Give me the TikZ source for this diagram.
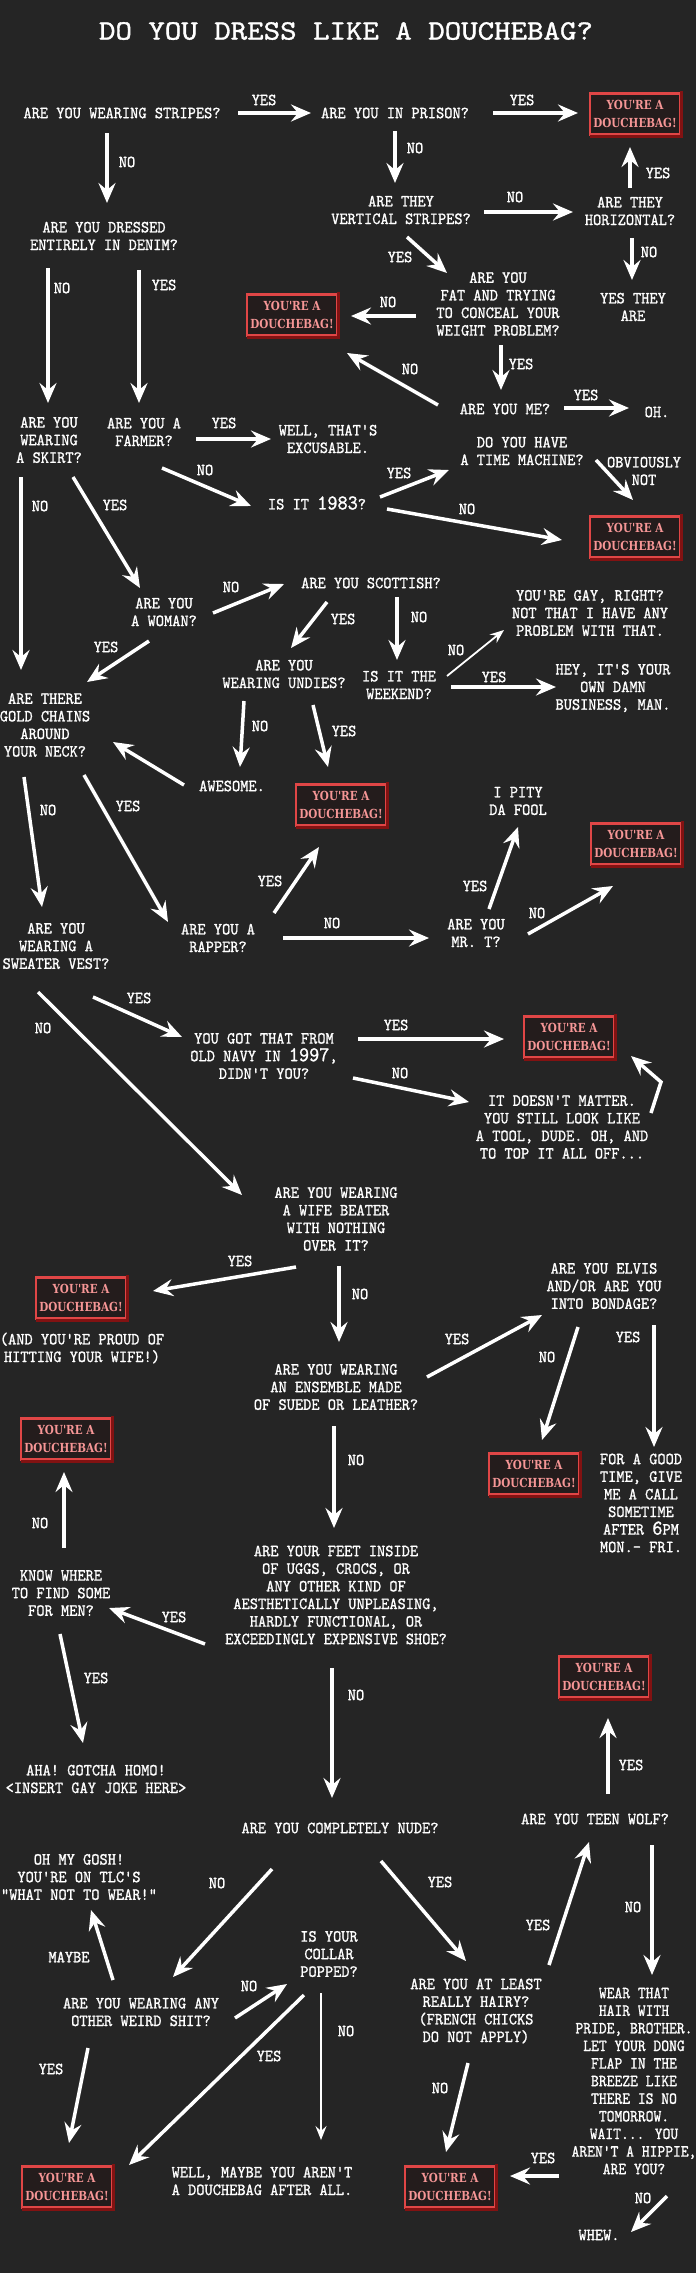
\documentclass[tikz,border=0pt]{standalone}
\usepackage{fontspec}
\usetikzlibrary{arrows.meta}
\newfontfamily\twfont[FakeBold=1.2]{lmmono10-regular.otf}
\newfontfamily\bagfont{DejaVu Serif}
\definecolor{bg}{RGB}{37,37,37}
\definecolor{bagred}{RGB}{224,70,70}
\definecolor{bagdark}{RGB}{130,18,18}
\definecolor{bagfill}{RGB}{36,28,28}
\definecolor{bagtext}{RGB}{246,150,150}
\tikzset{
  txt/.style={text=white, font=\twfont\fontsize{17}{17.6}\selectfont, align=center, xscale=0.92, inner sep=0pt},
  lbl/.style={txt},
  ttl/.style={text=white, font=\twfont\fontsize{28}{30}\selectfont, xscale=1.12, inner sep=0pt},
  arr/.style={draw=white, line width=3.5pt, -{Stealth[length=20pt,width=17pt,inset=7pt]}},
  slim/.style={line width=1.8pt, -{Stealth[length=14pt,width=11pt,inset=5pt]}},
  bag/.style={rectangle, draw=bagred, line width=2.5pt, fill=bagfill, minimum width=108pt, minimum height=41pt, xscale=0.83, inner sep=0pt, text=bagtext, font=\bagfont\bfseries\fontsize{12.5}{17.5}\selectfont, align=center},
  bagedge/.style={draw=bagdark, line width=3pt}
}
\newcommand\fconn[5][]{\draw[arr,#1] ([shift={(#3)}]#2.center) -- ([shift={(#5)}]#4.center);}
\newcommand\flab[3]{\node[lbl] (#1) at (#2) {#3};}
\newcommand\bagtxt{YOU'RE A\\DOUCHEBAG!}
\newcommand\bagnode[2]{\node[bag] (#1) at (#2) {\bagtxt};
  \draw[bagedge] ([shift={(1,1)}]#1.south west) -- ([shift={(1,1)}]#1.south east) -- ([shift={(1,-1)}]#1.north east);}
\begin{document}
\begin{tikzpicture}[x=1pt,y=-1pt]
\fill[bg] (0,0) rectangle (696,2273);
\useasboundingbox (0,0) rectangle (696,2273);

\node[ttl] (title) at (346,31) {DO YOU DRESS LIKE A DOUCHEBAG?};

\node[txt] (stripes) at (122,113) {ARE YOU WEARING STRIPES?};
\node[txt] (prison) at (395,113) {ARE YOU IN PRISON?};
\bagnode{bag1}{635,114}
\node[txt] (vert) at (401,210) {ARE THEY\\VERTICAL STRIPES?};
\node[txt] (horiz) at (630,211) {ARE THEY\\HORIZONTAL?};
\node[txt] (yesare) at (633,307) {YES THEY\\ARE};
\node[txt] (denim) at (104,236) {ARE YOU DRESSED\\ENTIRELY IN DENIM?};
\node[txt] (fat) at (498,304) {ARE YOU\\FAT AND TRYING\\TO CONCEAL YOUR\\WEIGHT PROBLEM?};
\bagnode{bag2}{292,315}
\node[txt] (skirt) at (49,440) {ARE YOU\\WEARING\\A SKIRT?};
\node[txt] (farmer) at (144,432) {ARE YOU A\\FARMER?};
\node[txt] (excuse) at (328,439) {WELL, THAT'S\\EXCUSABLE.};
\node[txt] (me) at (505,409) {ARE YOU ME?};
\node[txt] (oh) at (657,412) {OH.};
\node[txt] (time) at (522,451) {DO YOU HAVE\\A TIME MACHINE?};
\node[txt] (y1983) at (317,503) {IS IT {\fontsize{21}{17.6}\selectfont 1983}?};
\bagnode{bag3}{635,537}
\node[txt] (scot) at (371,583) {ARE YOU SCOTTISH?};
\node[txt] (woman) at (164,612) {ARE YOU\\A WOMAN?};
\node[txt] (undies) at (284,674) {ARE YOU\\WEARING UNDIES?};
\node[txt] (weekend) at (399,685) {IS IT THE\\WEEKEND?};
\node[txt] (gay) at (590,613) {YOU'RE GAY, RIGHT?\\NOT THAT I HAVE ANY\\PROBLEM WITH THAT.};
\node[txt] (business) at (613,688) {HEY, IT'S YOUR\\OWN DAMN\\BUSINESS, MAN.};
\node[txt] (gold) at (45,725) {ARE THERE\\GOLD CHAINS\\AROUND\\YOUR NECK?};
\node[txt] (awesome) at (232,786) {AWESOME.};
\bagnode{bag4}{341,805}
\node[txt] (pity) at (518,801) {I PITY\\DA FOOL};
\bagnode{bag5}{636,844}
\node[txt] (rapper) at (218,938) {ARE YOU A\\RAPPER?};
\node[txt] (mrt) at (476,933) {ARE YOU\\MR. T?};
\node[txt] (sweater) at (56,946) {ARE YOU\\WEARING A\\SWEATER VEST?};
\node[txt] (navy) at (264,1056) {YOU GOT THAT FROM\\OLD NAVY IN {\fontsize{21}{17.6}\selectfont 1997},\\DIDN'T YOU?};
\bagnode{bag6}{569,1037}
\node[txt] (matter) at (562,1127) {IT DOESN'T MATTER.\\YOU STILL LOOK LIKE\\A TOOL, DUDE. OH, AND\\TO TOP IT ALL OFF...};
\node[txt] (wife) at (336,1219) {ARE YOU WEARING\\A WIFE BEATER\\WITH NOTHING\\OVER IT?};
\bagnode{bag7}{81,1298}
\node[txt] (proud) at (82,1348) {(AND YOU'RE PROUD OF\\HITTING YOUR WIFE!)};
\node[txt] (elvis) at (604,1286) {ARE YOU ELVIS\\AND/OR ARE YOU\\INTO BONDAGE?};
\node[txt] (ensemble) at (336,1387) {ARE YOU WEARING\\AN ENSEMBLE MADE\\OF SUEDE OR LEATHER?};
\bagnode{bag8}{534,1474}
\node[txt] (goodtime) at (641,1503) {FOR A GOOD\\TIME, GIVE\\ME A CALL\\SOMETIME\\AFTER {\fontsize{21}{17.6}\selectfont 6}PM\\MON.— FRI.};
\bagnode{bag9}{66,1439}
\node[txt] (feet) at (336,1595) {ARE YOUR FEET INSIDE\\OF UGGS, CROCS, OR\\ANY OTHER KIND OF\\AESTHETICALLY UNPLEASING,\\HARDLY FUNCTIONAL, OR\\EXCEEDINGLY EXPENSIVE SHOE?};
\node[txt] (know) at (61,1593) {KNOW WHERE\\TO FIND SOME\\FOR MEN?};
\bagnode{bag10}{604,1677}
\node[txt] (aha) at (96,1779) {AHA! GOTCHA HOMO!\\<INSERT GAY JOKE HERE>};
\node[txt] (nude) at (340,1828) {ARE YOU COMPLETELY NUDE?};
\node[txt] (teen) at (595,1819) {ARE YOU TEEN WOLF?};
\node[txt] (omg) at (79,1877) {OH MY GOSH!\\YOU'RE ON TLC'S\\“WHAT NOT TO WEAR!”};
\node[txt] (collar) at (329,1954) {IS YOUR\\COLLAR\\POPPED?};
\node[txt] (weird) at (141,2012) {ARE YOU WEARING ANY\\OTHER WEIRD SHIT?};
\node[txt] (hairy) at (476,2011) {ARE YOU AT LEAST\\REALLY HAIRY?\\(FRENCH CHICKS\\DO NOT APPLY)};
\node[txt, xscale=0.95] (hippie) at (634,2081) {WEAR THAT\\HAIR WITH\\PRIDE, BROTHER.\\LET YOUR DONG\\FLAP IN THE\\BREEZE LIKE\\THERE IS NO\\TOMORROW.\\WAIT... YOU\\AREN'T A HIPPIE,\\ARE YOU?};
\node[txt] (whew) at (599,2235) {WHEW.};
\bagnode{bag11}{67,2187}
\node[txt] (maybe) at (262,2181) {WELL, MAYBE YOU AREN'T\\A DOUCHEBAG AFTER ALL.};
\bagnode{bag12}{450,2187}

% connectors
\fconn{stripes}{116,0}{prison}{-84,0}
\fconn{prison}{98,0}{bag1}{-57,-1}
\fconn{stripes}{-15,20}{denim}{3,-33}
\fconn{prison}{0,18}{vert}{-6,-27}
\fconn{horiz}{0,-23}{bag1}{-5,33}
\fconn{vert}{83,2}{horiz}{-57,1}
\fconn{horiz}{2,27}{yesare}{-1,-27}
\fconn{denim}{-56,32}{skirt}{-1,-37}
\fconn{denim}{35,34}{farmer}{-5,-29}
\fconn{vert}{6,27}{fat}{-51,-31}
\fconn{fat}{-82,12}{bag2}{59,1}
\fconn{fat}{3,41}{me}{-4,-19}
\fconn{me}{-67,-4}{bag2}{55,38}
\fconn{me}{59,-1}{oh}{-28,-4}
\fconn{farmer}{52,7}{excuse}{-57,0}
\fconn{time}{74,9}{bag3}{-2,-37}
\fconn{farmer}{18,36}{y1983}{-66,3}
\fconn{y1983}{63,-6}{time}{-73,19}
\fconn{y1983}{70,6}{bag3}{-73,3}
\fconn{skirt}{-28,37}{gold}{-24,-55}
\fconn{skirt}{24,37}{woman}{-24,-24}
\fconn{woman}{49,1}{scot}{-87,1}
\fconn{scot}{-44,19}{undies}{7,-26}
\fconn{scot}{26,14}{weekend}{-2,-25}
\fconn{woman}{-15,29}{gold}{42,-43}
\fconn[slim]{weekend}{48,-9}{gay}{-86,17}
\fconn{weekend}{52,2}{business}{-57,-1}
\fconn{undies}{-40,27}{awesome}{8,-19}
\fconn{undies}{29,31}{bag4}{-13,-38}
\fconn{awesome}{-48,-1}{gold}{68,17}
\fconn{gold}{-21,52}{sweater}{-14,-39}
\fconn{gold}{39,50}{rapper}{-50,-16}
\fconn{rapper}{56,-25}{bag4}{-22,42}
\fconn{rapper}{65,0}{mrt}{-47,5}
\fconn{mrt}{13,-24}{pity}{0,26}
\fconn{mrt}{52,1}{bag5}{-23,42}
\fconn{sweater}{-18,46}{wife}{-94,-24}
\fconn{sweater}{37,51}{navy}{-82,-19}
\fconn{navy}{94,-17}{bag6}{-65,2}
\fconn{navy}{89,22}{matter}{-93,-25}
\draw[arr] ([shift={(89,-14)}]matter.center) -- ([shift={(99,-45)}]matter.center) -- ([shift={(62,19)}]bag6.center);
\fconn{wife}{-40,48}{bag7}{72,-7}
\fconn{wife}{3,47}{ensemble}{3,-45}
\fconn{ensemble}{91,-10}{elvis}{-62,29}
\fconn{elvis}{-26,41}{bag8}{8,-34}
\fconn{elvis}{50,39}{goodtime}{13,-56}
\fconn{ensemble}{-2,39}{feet}{-2,-67}
\fconn{know}{3,-45}{bag9}{-2,33}
\fconn{feet}{-131,49}{know}{48,15}
\fconn{know}{-1,41}{aha}{-13,-36}
\fconn{feet}{-4,73}{nude}{-8,-30}
\fconn{teen}{13,-25}{bag10}{4,41}
\fconn{nude}{-68,41}{weird}{32,-35}
\fconn{nude}{41,33}{hairy}{-10,-50}
\fconn{hairy}{73,-46}{teen}{-6,23}
\fconn{teen}{57,26}{hippie}{18,-106}
\fconn{weird}{-28,-32}{omg}{12,33}
\fconn{weird}{94,6}{collar}{-42,30}
\fconn{collar}{-25,41}{bag11}{62,-22}
\fconn[slim]{collar}{-8,39}{maybe}{59,-41}
\fconn{hairy}{-8,52}{bag12}{-4,-35}
\fconn{weird}{-53,36}{bag11}{2,-44}
\fconn{hippie}{-75,95}{bag12}{60,-11}
\fconn{hippie}{33,115}{whew}{32,-3}

% labels
\flab{l1}{264,100}{YES}
\flab{l2}{522,100}{YES}
\flab{l3}{127,162}{NO}
\flab{l4}{415,148}{NO}
\flab{l5}{658,173}{YES}
\flab{l6}{515,197}{NO}
\flab{l7}{649,252}{NO}
\flab{l8}{62,288}{NO}
\flab{l9}{164,285}{YES}
\flab{l10}{400,257}{YES}
\flab{l11}{388,302}{NO}
\flab{l12}{521,364}{YES}
\flab{l13}{410,369}{NO}
\flab{l14}{586,395}{YES}
\flab{l15}{224,423}{YES}
\flab{l16}{644,471}{OBVIOUSLY\\NOT}
\flab{l17}{205,470}{NO}
\flab{l18}{399,473}{YES}
\flab{l19}{467,509}{NO}
\flab{l20}{40,506}{NO}
\flab{l21}{115,505}{YES}
\flab{l22}{231,587}{NO}
\flab{l23}{343,619}{YES}
\flab{l24}{419,617}{NO}
\flab{l25}{106,647}{YES}
\flab{l26}{456,650}{NO}
\flab{l27}{494,677}{YES}
\flab{l28}{260,726}{NO}
\flab{l29}{344,731}{YES}
\flab{l31}{48,810}{NO}
\flab{l32}{128,806}{YES}
\flab{l33}{270,881}{YES}
\flab{l34}{332,923}{NO}
\flab{l35}{475,886}{YES}
\flab{l36}{537,913}{NO}
\flab{l37}{43,1028}{NO}
\flab{l38}{139,998}{YES}
\flab{l39}{396,1025}{YES}
\flab{l40}{400,1073}{NO}
\flab{l42}{240,1261}{YES}
\flab{l43}{360,1294}{NO}
\flab{l44}{457,1339}{YES}
\flab{l45}{547,1357}{NO}
\flab{l46}{628,1337}{YES}
\flab{l47}{356,1460}{NO}
\flab{l48}{40,1523}{NO}
\flab{l49}{174,1617}{YES}
\flab{l50}{96,1678}{YES}
\flab{l51}{356,1695}{NO}
\flab{l52}{631,1765}{YES}
\flab{l53}{217,1883}{NO}
\flab{l54}{440,1882}{YES}
\flab{l55}{538,1925}{YES}
\flab{l56}{633,1907}{NO}
\flab{l57}{69,1957}{MAYBE}
\flab{l58}{249,1986}{NO}
\flab{l59}{269,2056}{YES}
\flab{l60}{346,2031}{NO}
\flab{l61}{440,2088}{NO}
\flab{l62}{51,2069}{YES}
\flab{l63}{543,2158}{YES}
\flab{l64}{643,2198}{NO}
\end{tikzpicture}
\end{document}
